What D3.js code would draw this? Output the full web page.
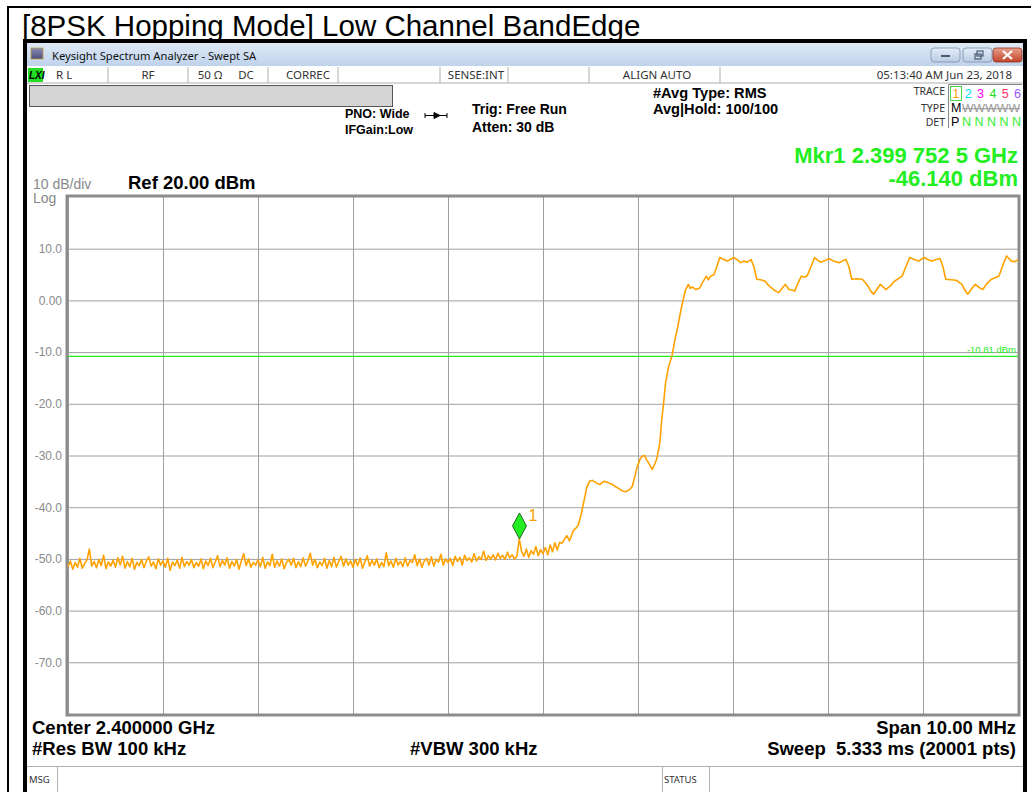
<!DOCTYPE html>
<html>
<head>
<meta charset="utf-8">
<script src="https://cdn.jsdelivr.net/npm/d3@7"></script>
<style>
  body { margin: 0; background: #fff; }
  text { font-family: "Liberation Sans", Arial, sans-serif; }
  .ui { font-family: "Noto Sans", "DejaVu Sans", sans-serif; }
</style>
</head>
<body>
<div id="chart"></div>
<script>
// sweep settings (MHz / dBm)
var startMHz = 2395, stopMHz = 2405;
var refLevel = 20, bottomLevel = -80;
var yTicks = [10, 0, -10, -20, -30, -40, -50, -60, -70];
var xTicks = [2395, 2396, 2397, 2398, 2399, 2400, 2401, 2402, 2403, 2404, 2405];
var displayLine = -10.81;
var mkrFreq = 2399.7525, mkrLevel = -46.14;

// noise floor, read every 0.025 MHz from 2395.000 MHz
var floorStep = 0.025;
var floorDbm = [
  -51.5,-50.4,-52.0,-50.7,-51.6,-49.9,-51.8,-50.9,-50.2,-48.1,-51.4,-50.5,-51.7,-50.1,-51.3,-49.3,-51.9,-50.6,-51.4,-50.2,
  -51.6,-49.8,-51.2,-49.5,-51.8,-50.5,-51.5,-49.9,-52.0,-50.7,-51.3,-50.1,-51.7,-50.4,-49.6,-51.4,-50.6,-51.9,-50.0,-51.2,
  -50.4,-51.6,-49.9,-52.2,-50.6,-51.3,-50.2,-51.8,-49.7,-51.5,-50.5,-51.2,-50.1,-51.7,-50.7,-51.4,-50.0,-51.9,-50.4,-51.3,
  -49.9,-51.7,-50.6,-49.4,-51.5,-50.3,-51.2,-49.8,-51.8,-50.5,-51.4,-50.1,-52.0,-50.4,-49.0,-51.3,-50.0,-51.6,-50.7,-51.2,
  -50.2,-51.5,-49.7,-51.8,-50.6,-51.3,-49.1,-51.6,-50.4,-51.4,-50.0,-51.9,-50.7,-50.1,-51.2,-49.9,-51.7,-50.5,-51.5,-49.8,
  -51.4,-50.4,-48.9,-51.2,-50.1,-51.7,-50.6,-51.3,-49.9,-51.8,-50.3,-51.5,-49.7,-51.6,-50.5,-49.5,-51.4,-50.0,-51.2,-50.4,
  -51.6,-50.1,-51.3,-49.8,-51.8,-50.6,-49.4,-51.4,-50.3,-51.2,-50.0,-51.7,-50.7,-51.5,-48.8,-51.3,-50.4,-51.6,-49.9,-51.2,
  -50.5,-51.5,-49.8,-51.4,-50.3,-50.7,-49.2,-51.3,-50.0,-51.6,-50.4,-49.9,-51.2,-49.6,-51.4,-50.1,-50.6,-49.1,-51.2,-50.0,
  -50.7,-49.9,-51.3,-49.5,-50.5,-49.7,-51.2,-49.3,-50.3,-49.8,-50.6,-49.0,-50.4,-49.6,-50.1,-48.5,-50.3,-49.4,-50.0,-49.2,
  -50.2,-48.9,-49.9,-49.3,-50.1,-48.7,-49.8,-49.2,-50.0,-49.5,-46.1,-48.6,-49.5,-48.1,-49.7,-48.4,-49.1,-47.6,-49.4,-48.2,
  -49.0,-47.8,-49.2,-47.3,-48.6,-46.9,-48.3,-46.8
];

// band edge and in-band part: [MHz, dBm]
var edgeTrace = [
  [2400.20,-47.0],[2400.25,-45.5],[2400.28,-46.5],[2400.32,-44.5],[2400.35,-44.0],[2400.37,-43.5],
  [2400.40,-41.5],[2400.42,-39.8],[2400.44,-38.0],[2400.46,-36.2],[2400.49,-35.0],[2400.52,-34.8],
  [2400.56,-35.3],[2400.60,-35.6],[2400.64,-35.0],[2400.68,-35.2],[2400.73,-35.6],[2400.76,-36.0],
  [2400.80,-36.4],[2400.83,-36.8],[2400.87,-37.0],[2400.91,-36.6],[2400.94,-36.0],[2400.97,-33.8],
  [2400.99,-32.3],[2401.02,-30.8],[2401.04,-30.2],[2401.07,-30.0],[2401.09,-30.8],[2401.13,-32.0],
  [2401.15,-32.7],[2401.18,-31.5],[2401.20,-30.5],[2401.23,-27.5],[2401.25,-23.0],[2401.27,-19.8],
  [2401.29,-16.0],[2401.32,-13.0],[2401.36,-10.5],[2401.39,-7.5],[2401.42,-5.0],[2401.45,-2.0],
  [2401.48,0.5],[2401.50,2.0],[2401.53,3.1],[2401.55,2.3],[2401.57,2.6],[2401.61,2.1],[2401.65,2.4],
  [2401.68,3.5],[2401.72,4.7],[2401.74,4.0],[2401.76,4.6],[2401.80,5.0],[2401.83,6.5],[2401.86,8.3],
  [2401.89,8.0],[2401.94,7.6],[2401.97,7.9],[2402.01,8.3],[2402.05,7.8],[2402.08,7.3],[2402.11,7.6],
  [2402.15,7.4],[2402.19,7.9],[2402.22,6.5],[2402.25,4.1],[2402.29,4.0],[2402.34,3.7],[2402.37,3.0],
  [2402.40,2.5],[2402.44,1.9],[2402.48,1.5],[2402.52,2.4],[2402.55,3.1],[2402.59,2.1],[2402.62,2.0],
  [2402.65,1.8],[2402.68,3.2],[2402.72,4.7],[2402.75,4.5],[2402.78,4.7],[2402.82,6.5],[2402.86,8.3],
  [2402.89,7.8],[2402.92,7.4],[2402.97,7.7],[2403.01,8.1],[2403.06,7.6],[2403.12,7.3],[2403.16,7.7],
  [2403.19,7.9],[2403.22,6.5],[2403.25,4.1],[2403.30,4.2],[2403.36,4.1],[2403.39,3.5],[2403.42,2.8],
  [2403.45,1.8],[2403.48,1.2],[2403.52,2.3],[2403.55,3.1],[2403.58,2.6],[2403.61,2.1],[2403.66,2.9],
  [2403.70,3.7],[2403.74,4.2],[2403.78,4.7],[2403.82,6.5],[2403.86,8.3],[2403.91,7.9],[2403.95,7.6],
  [2403.98,7.9],[2404.01,8.3],[2404.05,7.9],[2404.09,7.6],[2404.14,7.9],[2404.18,8.1],[2404.21,6.5],
  [2404.24,4.1],[2404.29,4.0],[2404.35,3.9],[2404.38,3.5],[2404.41,3.1],[2404.44,2.0],[2404.47,1.2],
  [2404.51,2.2],[2404.55,3.1],[2404.59,2.5],[2404.63,2.1],[2404.67,3.2],[2404.72,4.1],[2404.76,4.4],
  [2404.80,4.7],[2404.84,6.8],[2404.88,8.6],[2404.93,7.6],[2404.97,7.5],[2405.00,7.9]
];

var W = 1031, H = 792;
var plot = {left: 68, right: 1018, top: 197, bottom: 714};

var svg = d3.select("#chart").append("svg")
    .attr("width", W).attr("height", H);

var defs = svg.append("defs");
function grad(id, c1, c2) {
  var g = defs.append("linearGradient").attr("id", id)
    .attr("x1", 0).attr("y1", 0).attr("x2", 0).attr("y2", 1);
  g.append("stop").attr("offset", "0%").attr("stop-color", c1);
  g.append("stop").attr("offset", "100%").attr("stop-color", c2);
}
grad("titlebar", "#dfe9f6", "#bfd3ec");
grad("btn", "#e4edf8", "#b9cce4");
grad("closebtn", "#e8a08c", "#c4432b");
grad("icon", "#8a8fb8", "#4b4f7a");

// plain hyphen for negative numbers, like the analyzer screen
function fmt(v, digits) { return v.toFixed(digits); }

// outer border + page title
svg.append("rect").attr("x", 8).attr("y", 7).attr("width", W).attr("height", H)
  .attr("fill", "none").attr("stroke", "#000").attr("stroke-width", 2);
svg.append("text").attr("x", 22).attr("y", 36)
  .style("font-size", "29.5px").text("[8PSK Hopping Mode] Low Channel BandEdge");

// analyzer window frame
svg.append("rect").attr("x", 25).attr("y", 41).attr("width", 1000).attr("height", 760)
  .attr("fill", "#fff").attr("stroke", "#000").attr("stroke-width", 4);
svg.append("rect").attr("x", 27).attr("y", 43).attr("width", 996).attr("height", 23)
  .attr("fill", "url(#titlebar)");
svg.append("rect").attr("x", 31).attr("y", 48).attr("width", 12).attr("height", 11)
  .attr("fill", "url(#icon)").attr("stroke", "#b8a040").attr("stroke-width", 0.8);
svg.append("text").attr("class", "ui").attr("x", 52).attr("y", 60)
  .style("font-size", "11.2px").attr("fill", "#111")
  .text("Keysight Spectrum Analyzer - Swept SA");

// window buttons
[[931, "btn"], [963, "btn"], [993, "closebtn"]].forEach(function(b) {
  svg.append("rect").attr("x", b[0]).attr("y", 48).attr("width", 29).attr("height", 14)
    .attr("rx", 3).attr("fill", "url(#" + b[1] + ")")
    .attr("stroke", b[1] == "btn" ? "#7c8ea8" : "#8a3020").attr("stroke-width", 0.8);
});
svg.append("rect").attr("x", 941).attr("y", 55).attr("width", 9).attr("height", 2).attr("fill", "#4a5a70");
svg.append("rect").attr("x", 975).attr("y", 54).attr("width", 6).attr("height", 5)
  .attr("fill", "none").attr("stroke", "#4a5a70").attr("stroke-width", 1.2);
svg.append("rect").attr("x", 977).attr("y", 51).attr("width", 6).attr("height", 5)
  .attr("fill", "none").attr("stroke", "#4a5a70").attr("stroke-width", 1.2);
svg.append("path").attr("d", "M1003,51L1012,59M1012,51L1003,59")
  .attr("stroke", "#fff").attr("stroke-width", 2.2);

// status row
svg.append("line").attr("x1", 27).attr("x2", 1023).attr("y1", 83).attr("y2", 83)
  .attr("stroke", "#b0b0b0");
[108, 188, 268, 338, 440, 508, 589, 720].forEach(function(sx) {
  svg.append("line").attr("x1", sx).attr("x2", sx).attr("y1", 67).attr("y2", 83)
    .attr("stroke", "#b0b0b0");
});
svg.append("rect").attr("x", 28).attr("y", 68).attr("width", 15).attr("height", 14).attr("fill", "#22dd22");
svg.append("text").attr("x", 29).attr("y", 79).style("font-size", "10px")
  .style("font-weight", "bold").style("font-style", "italic").text("LXI");
var statusTexts = [
  {t: "R L", x: 56, a: "start"}, {t: "RF", x: 148, a: "middle"},
  {t: "50 Ω", x: 210, a: "middle"}, {t: "DC", x: 246, a: "middle"},
  {t: "CORREC", x: 308, a: "middle"}, {t: "SENSE:INT", x: 476, a: "middle"},
  {t: "ALIGN AUTO", x: 657, a: "middle"}, {t: "05:13:40 AM Jun 23, 2018", x: 1012, a: "end"}
];
svg.selectAll(".status").data(statusTexts).enter().append("text")
  .attr("class", "ui").attr("x", function(d) { return d.x; }).attr("y", 79)
  .attr("text-anchor", function(d) { return d.a; })
  .style("font-size", "11.5px").attr("fill", "#333").text(function(d) { return d.t; });

// gray message bar
svg.append("rect").attr("x", 29.5).attr("y", 85.5).attr("width", 363).attr("height", 21)
  .attr("fill", "#d4d4d4").attr("stroke", "#555");

// settings block
function bold(t, x, y, size, anchor, color) {
  return svg.append("text").attr("x", x).attr("y", y)
    .attr("text-anchor", anchor || "start")
    .style("font-size", size + "px").style("font-weight", "bold")
    .attr("fill", color || "#000").text(t);
}
bold("PNO: Wide", 345, 118, 12.5);
bold("IFGain:Low", 345, 134, 12.5);
svg.append("path").attr("d", "M425,115.5H447M434,112.5L440,115.5L434,118.5Z M425,113V118 M447,113V118")
  .attr("stroke", "#000").attr("fill", "#000").attr("stroke-width", 1);
bold("Trig: Free Run", 472, 114, 14);
bold("Atten: 30 dB", 472, 132, 14);
bold("#Avg Type: RMS", 653, 98, 14.6);
bold("Avg|Hold: 100/100", 653, 114, 14.6);

// trace table
svg.append("text").attr("class", "ui").attr("x", 945).attr("y", 95).attr("text-anchor", "end")
  .style("font-size", "10.5px").attr("fill", "#333").text("TRACE");
svg.append("text").attr("class", "ui").attr("x", 945).attr("y", 112).attr("text-anchor", "end")
  .style("font-size", "10.5px").attr("fill", "#333").text("TYPE");
svg.append("text").attr("class", "ui").attr("x", 945).attr("y", 126).attr("text-anchor", "end")
  .style("font-size", "10.5px").attr("fill", "#333").text("DET");
svg.append("path").attr("d", "M948.5,128V84.5H1022").attr("fill", "none").attr("stroke", "#888");
var traceColors = ["#f5a000", "#00e0ff", "#ff00ff", "#22dd22", "#ff3366", "#9955ff"];
traceColors.forEach(function(c, i) {
  svg.append("text").attr("x", 956 + i * 12.3).attr("y", 98).attr("text-anchor", "middle")
    .style("font-size", "12.5px").attr("fill", c).text(i + 1);
});
svg.append("rect").attr("x", 950.5).attr("y", 86.5).attr("width", 11).attr("height", 14)
  .attr("fill", "none").attr("stroke", "#22cc22").attr("stroke-width", 0.8);
svg.append("text").attr("x", 951).attr("y", 112).style("font-size", "12.5px").text("M");
svg.append("text").attr("x", 962).attr("y", 112).attr("textLength", 58)
  .attr("lengthAdjust", "spacingAndGlyphs").style("font-size", "10.5px")
  .attr("fill", "#999").attr("text-decoration", "line-through").text("WWWWW");
svg.append("text").attr("x", 951).attr("y", 126).style("font-size", "12.5px").text("P");
svg.append("text").attr("x", 962).attr("y", 126).style("font-size", "12.5px")
  .attr("fill", "#33ee33").text("N N N N N");

// marker readout
bold("Mkr1 2.399 752 5 GHz", 1018, 163, 22, "end", "#22ee22");
bold(fmt(mkrLevel, 3) + " dBm", 1018, 186, 22, "end", "#22ee22");

svg.append("text").attr("x", 33).attr("y", 189).style("font-size", "14px").attr("fill", "#888").text("10 dB/div");
svg.append("text").attr("x", 33).attr("y", 203).style("font-size", "14px").attr("fill", "#888").text("Log");
bold("Ref " + fmt(refLevel, 2) + " dBm", 128, 189, 18.5);

// scales
var x = d3.scaleLinear().domain([startMHz, stopMHz]).range([plot.left, plot.right]);
var y = d3.scaleLinear().domain([bottomLevel, refLevel]).range([plot.bottom, plot.top]);

// grid
svg.append("g")
  .attr("transform", "translate(0," + plot.bottom + ")")
  .call(d3.axisBottom(x).tickValues(xTicks).tickSize(-(plot.bottom - plot.top)).tickFormat(""))
  .call(function(g) { g.select(".domain").remove(); })
  .selectAll("line").attr("stroke", "#a0a0a0");
var yAxis = svg.append("g")
  .attr("transform", "translate(" + plot.left + ",0)")
  .call(d3.axisLeft(y).tickValues(yTicks).tickSize(-(plot.right - plot.left)).tickPadding(6)
    .tickFormat(function(d) { return d == 0 ? "0.00" : fmt(d, 1); }));
yAxis.select(".domain").remove();
yAxis.selectAll("line").attr("stroke", "#a0a0a0");
yAxis.selectAll("text").attr("fill", "#8a8a8a").style("font-size", "12px")
  .style("font-family", "Liberation Sans, Arial, sans-serif");

svg.append("rect").attr("x", plot.left - 1).attr("y", plot.top - 1)
  .attr("width", plot.right - plot.left + 2).attr("height", plot.bottom - plot.top + 2)
  .attr("fill", "none").attr("stroke", "#8c8c8c").attr("stroke-width", 3);

// display line
svg.append("line").attr("x1", plot.left).attr("x2", plot.right)
  .attr("y1", y(displayLine)).attr("y2", y(displayLine))
  .attr("stroke", "#22ee22").attr("stroke-width", 1.3);
svg.append("text").attr("x", plot.right - 2).attr("y", y(displayLine) - 3)
  .attr("text-anchor", "end").style("font-size", "9.5px").attr("fill", "#22ee22")
  .text(fmt(displayLine, 2) + " dBm");

// trace
var trace = floorDbm.map(function(v, i) { return [startMHz + i * floorStep, v]; })
  .concat(edgeTrace);
svg.append("path").datum(trace)
  .attr("fill", "none").attr("stroke", "#ffa200").attr("stroke-width", 1.6)
  .attr("stroke-linejoin", "round")
  .attr("d", d3.line().x(function(d) { return x(d[0]); }).y(function(d) { return y(d[1]); }));

// marker
var mx = x(mkrFreq), my = y(mkrLevel);
svg.append("path")
  .attr("d", "M" + mx + "," + my + "l-7,-13l7,-13l7,13z")
  .attr("fill", "#22ee22").attr("stroke", "#226622").attr("stroke-width", 1);
svg.append("text").attr("x", mx + 9).attr("y", my - 18)
  .style("font-size", "16px").attr("fill", "#f5a000").text("1");

// bottom annotations
bold("Center 2.400000 GHz", 32, 734, 18.5);
bold("#Res BW 100 kHz", 32, 755, 18.5);
bold("#VBW 300 kHz", 410, 755, 18.5);
bold("Span 10.00 MHz", 1016, 734, 18.5, "end");
bold("Sweep  5.333 ms (20001 pts)", 1016, 755, 18.5, "end").style("white-space", "pre");

// message bar
svg.append("line").attr("x1", 27).attr("x2", 1023).attr("y1", 766.5).attr("y2", 766.5).attr("stroke", "#b0b0b0");
[57, 662, 709].forEach(function(sx) {
  svg.append("line").attr("x1", sx + 0.5).attr("x2", sx + 0.5).attr("y1", 767).attr("y2", 792).attr("stroke", "#b0b0b0");
});
svg.append("text").attr("class", "ui").attr("x", 29).attr("y", 783).style("font-size", "9.5px").attr("fill", "#333").text("MSG");
svg.append("text").attr("class", "ui").attr("x", 664).attr("y", 783).style("font-size", "9.5px").attr("fill", "#333").text("STATUS");
</script>
</body>
</html>
